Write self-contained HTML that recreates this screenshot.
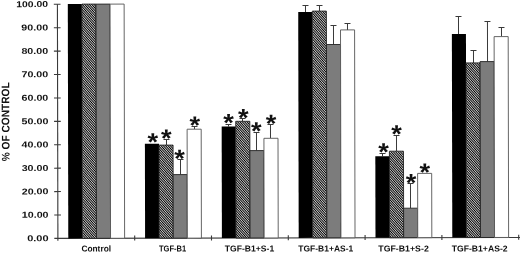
<!DOCTYPE html>
<html><head><meta charset="utf-8"><title>chart</title>
<style>
html,body{margin:0;padding:0;background:#fff;}
body{width:520px;height:253px;overflow:hidden;}
svg{display:block;}
text{font-family:"Liberation Sans",sans-serif;font-weight:bold;fill:#111;}
</style></head><body>
<svg width="520" height="253" viewBox="0 0 520 253">
<defs>
<pattern id="hatch" width="1.735" height="1.735" patternUnits="userSpaceOnUse" patternTransform="rotate(48)">
<rect width="1.735" height="1.735" fill="#fff"/>
<rect width="1.735" height="1.05" fill="#000"/>
</pattern>
</defs>
<rect width="520" height="253" fill="#fff"/>
<g transform="rotate(-0.1203 57.9 238.4)">

<g stroke="#3a3a3a" stroke-width="1.1" fill="none">
<line x1="57.9" y1="4.30" x2="57.9" y2="240.70"/>
<line x1="54.3" y1="238.4" x2="521" y2="238.4"/>
<line x1="54.3" y1="214.99" x2="61" y2="214.99"/>
<line x1="54.3" y1="191.58" x2="61" y2="191.58"/>
<line x1="54.3" y1="168.17" x2="61" y2="168.17"/>
<line x1="54.3" y1="144.76" x2="61" y2="144.76"/>
<line x1="54.3" y1="121.35" x2="61" y2="121.35"/>
<line x1="54.3" y1="97.94" x2="61" y2="97.94"/>
<line x1="54.3" y1="74.53" x2="61" y2="74.53"/>
<line x1="54.3" y1="51.12" x2="61" y2="51.12"/>
<line x1="54.3" y1="27.71" x2="61" y2="27.71"/>
<line x1="54.3" y1="4.30" x2="61" y2="4.30"/>
<line x1="134.70" y1="235.70" x2="134.70" y2="240.70"/>
<line x1="211.50" y1="235.70" x2="211.50" y2="240.70"/>
<line x1="288.30" y1="235.70" x2="288.30" y2="240.70"/>
<line x1="365.10" y1="235.70" x2="365.10" y2="240.70"/>
<line x1="441.90" y1="235.70" x2="441.90" y2="240.70"/>
<line x1="518.70" y1="235.70" x2="518.70" y2="240.70"/>
</g>
<rect x="68.30" y="4.14" width="14.08" height="234.26" fill="#000"/>
<rect x="82.38" y="4.17" width="14.08" height="234.23" fill="url(#hatch)" stroke="#222" stroke-width="0.9"/>
<rect x="96.46" y="4.20" width="14.08" height="234.20" fill="#7c7c7c" stroke="#222" stroke-width="0.9"/>
<rect x="110.54" y="4.23" width="14.08" height="234.17" fill="#fff" stroke="#555" stroke-width="0.9"/>
<rect x="145.10" y="144.00" width="14.08" height="94.40" fill="#000"/>
<text transform="translate(153.00 150.80) scale(1.09 1)" font-size="25" text-anchor="middle">*</text>
<path d="M166.70 145.33V139.73M163.70 139.73H169.70" stroke="#3a3a3a" stroke-width="1" fill="none"/>
<rect x="159.18" y="145.33" width="14.08" height="93.07" fill="url(#hatch)" stroke="#222" stroke-width="0.9"/>
<text transform="translate(166.51 147.03) scale(1.09 1)" font-size="25" text-anchor="middle">*</text>
<path d="M180.65 174.86V159.76M177.65 159.76H183.65" stroke="#3a3a3a" stroke-width="1" fill="none"/>
<rect x="173.26" y="174.86" width="14.08" height="63.54" fill="#7c7c7c" stroke="#222" stroke-width="0.9"/>
<text transform="translate(179.67 167.26) scale(1.09 1)" font-size="25" text-anchor="middle">*</text>
<path d="M194.73 129.49V126.79M191.73 126.79H197.73" stroke="#3a3a3a" stroke-width="1" fill="none"/>
<rect x="187.34" y="129.49" width="14.08" height="108.91" fill="#fff" stroke="#555" stroke-width="0.9"/>
<text transform="translate(194.94 134.09) scale(1.09 1)" font-size="25" text-anchor="middle">*</text>
<path d="M228.74 126.76V124.86M225.74 124.86H231.74" stroke="#3a3a3a" stroke-width="1" fill="none"/>
<rect x="221.90" y="126.76" width="14.08" height="111.64" fill="#000"/>
<text transform="translate(228.74 131.66) scale(1.09 1)" font-size="25" text-anchor="middle">*</text>
<path d="M242.75 121.69V118.89M239.75 118.89H245.75" stroke="#3a3a3a" stroke-width="1" fill="none"/>
<rect x="235.98" y="121.69" width="14.08" height="116.71" fill="url(#hatch)" stroke="#222" stroke-width="0.9"/>
<text transform="translate(243.55 126.59) scale(1.09 1)" font-size="25" text-anchor="middle">*</text>
<path d="M256.70 151.02V132.92M253.70 132.92H259.70" stroke="#3a3a3a" stroke-width="1" fill="none"/>
<rect x="250.06" y="151.02" width="14.08" height="87.38" fill="#7c7c7c" stroke="#222" stroke-width="0.9"/>
<text transform="translate(256.42 139.82) scale(1.09 1)" font-size="25" text-anchor="middle">*</text>
<path d="M270.72 138.75V124.95M267.72 124.95H273.72" stroke="#3a3a3a" stroke-width="1" fill="none"/>
<rect x="264.14" y="138.75" width="14.08" height="99.65" fill="#fff" stroke="#555" stroke-width="0.9"/>
<text transform="translate(271.24 132.35) scale(1.09 1)" font-size="25" text-anchor="middle">*</text>
<path d="M305.98 12.42V6.02M302.98 6.02H308.98" stroke="#3a3a3a" stroke-width="1" fill="none"/>
<rect x="298.70" y="12.42" width="14.08" height="225.98" fill="#000"/>
<path d="M319.98 11.65V6.05M316.98 6.05H322.98" stroke="#3a3a3a" stroke-width="1" fill="none"/>
<rect x="312.78" y="11.65" width="14.08" height="226.75" fill="url(#hatch)" stroke="#222" stroke-width="0.9"/>
<path d="M333.93 45.08V26.08M330.93 26.08H336.93" stroke="#3a3a3a" stroke-width="1" fill="none"/>
<rect x="326.86" y="45.08" width="14.08" height="193.32" fill="#7c7c7c" stroke="#222" stroke-width="0.9"/>
<path d="M347.94 30.51V24.11M344.94 24.11H350.94" stroke="#3a3a3a" stroke-width="1" fill="none"/>
<rect x="340.94" y="30.51" width="14.08" height="207.89" fill="#fff" stroke="#555" stroke-width="0.9"/>
<path d="M382.67 156.98V154.18M379.67 154.18H385.67" stroke="#3a3a3a" stroke-width="1" fill="none"/>
<rect x="375.50" y="156.98" width="14.08" height="81.42" fill="#000"/>
<text transform="translate(383.58 161.28) scale(1.09 1)" font-size="25" text-anchor="middle">*</text>
<path d="M396.70 151.91V136.21M393.70 136.21H399.70" stroke="#3a3a3a" stroke-width="1" fill="none"/>
<rect x="389.58" y="151.91" width="14.08" height="86.49" fill="url(#hatch)" stroke="#222" stroke-width="0.9"/>
<text transform="translate(396.72 143.11) scale(1.09 1)" font-size="25" text-anchor="middle">*</text>
<path d="M410.59 208.94V184.24M407.59 184.24H413.59" stroke="#3a3a3a" stroke-width="1" fill="none"/>
<rect x="403.66" y="208.94" width="14.08" height="29.46" fill="#7c7c7c" stroke="#222" stroke-width="0.9"/>
<text transform="translate(411.22 192.04) scale(1.09 1)" font-size="25" text-anchor="middle">*</text>
<rect x="417.74" y="174.17" width="14.08" height="64.23" fill="#fff" stroke="#555" stroke-width="0.9"/>
<text transform="translate(424.94 181.57) scale(1.09 1)" font-size="25" text-anchor="middle">*</text>
<path d="M458.95 34.74V17.34M455.95 17.34H461.95" stroke="#3a3a3a" stroke-width="1" fill="none"/>
<rect x="452.30" y="34.74" width="14.08" height="203.66" fill="#000"/>
<path d="M473.88 63.77V51.37M470.88 51.37H476.88" stroke="#3a3a3a" stroke-width="1" fill="none"/>
<rect x="466.38" y="63.77" width="14.08" height="174.63" fill="url(#hatch)" stroke="#222" stroke-width="0.9"/>
<path d="M487.91 62.50V22.40M484.91 22.40H490.91" stroke="#3a3a3a" stroke-width="1" fill="none"/>
<rect x="480.46" y="62.50" width="14.08" height="175.90" fill="#7c7c7c" stroke="#222" stroke-width="0.9"/>
<path d="M501.93 37.53V28.43M498.93 28.43H504.93" stroke="#3a3a3a" stroke-width="1" fill="none"/>
<rect x="494.54" y="37.53" width="14.08" height="200.87" fill="#fff" stroke="#555" stroke-width="0.9"/>
<text x="27.20" y="241.15" font-size="8.6" textLength="21.4" lengthAdjust="spacingAndGlyphs">0.00</text>
<text x="21.80" y="217.74" font-size="8.6" textLength="26.8" lengthAdjust="spacingAndGlyphs">10.00</text>
<text x="21.80" y="194.33" font-size="8.6" textLength="26.8" lengthAdjust="spacingAndGlyphs">20.00</text>
<text x="21.80" y="170.92" font-size="8.6" textLength="26.8" lengthAdjust="spacingAndGlyphs">30.00</text>
<text x="21.80" y="147.51" font-size="8.6" textLength="26.8" lengthAdjust="spacingAndGlyphs">40.00</text>
<text x="21.80" y="124.10" font-size="8.6" textLength="26.8" lengthAdjust="spacingAndGlyphs">50.00</text>
<text x="21.80" y="100.69" font-size="8.6" textLength="26.8" lengthAdjust="spacingAndGlyphs">60.00</text>
<text x="21.80" y="77.28" font-size="8.6" textLength="26.8" lengthAdjust="spacingAndGlyphs">70.00</text>
<text x="21.80" y="53.87" font-size="8.6" textLength="26.8" lengthAdjust="spacingAndGlyphs">80.00</text>
<text x="21.80" y="30.46" font-size="8.6" textLength="26.8" lengthAdjust="spacingAndGlyphs">90.00</text>
<text x="16.80" y="7.05" font-size="8.6" textLength="31.8" lengthAdjust="spacingAndGlyphs">100.00</text>
<text x="81.37" y="251.65" font-size="8.6" textLength="29.7" lengthAdjust="spacingAndGlyphs">Control</text>
<text x="158.87" y="251.81" font-size="8.6" textLength="27.3" lengthAdjust="spacingAndGlyphs">TGF-B1</text>
<text x="224.67" y="251.95" font-size="8.6" textLength="49.5" lengthAdjust="spacingAndGlyphs">TGF-B1+S-1</text>
<text x="298.27" y="252.10" font-size="8.6" textLength="55.0" lengthAdjust="spacingAndGlyphs">TGF-B1+AS-1</text>
<text x="378.27" y="252.27" font-size="8.6" textLength="50.5" lengthAdjust="spacingAndGlyphs">TGF-B1+S-2</text>
<text x="451.67" y="252.43" font-size="8.6" textLength="55.9" lengthAdjust="spacingAndGlyphs">TGF-B1+AS-2</text>
<text transform="translate(9.6 161.2) rotate(-90)" font-size="11" textLength="79" lengthAdjust="spacingAndGlyphs">% OF CONTROL</text>
</g>
</svg></body></html>
